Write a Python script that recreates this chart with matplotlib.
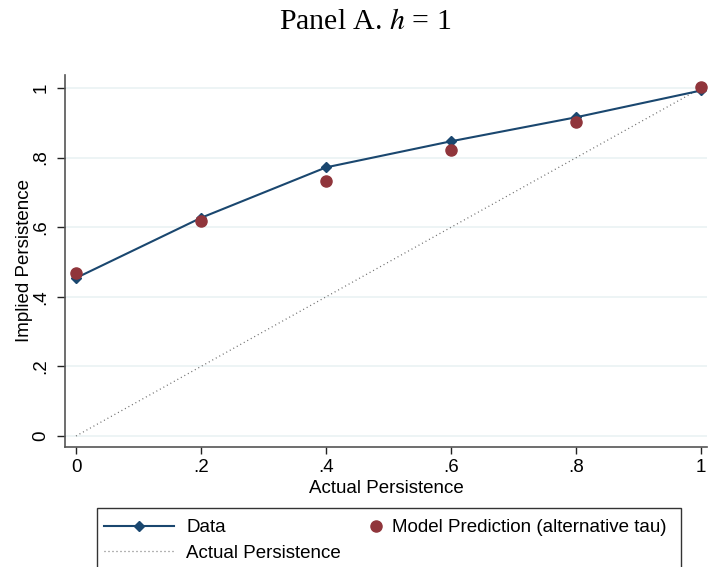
import matplotlib
matplotlib.use("Agg")
import matplotlib.pyplot as plt
from matplotlib.lines import Line2D
from matplotlib.patches import Rectangle

# Data
actual = [0, 0.2, 0.4, 0.6, 0.8, 1.0]
data_implied = [0.454, 0.627, 0.772, 0.847, 0.916, 0.993]
model_implied = [0.467, 0.617, 0.732, 0.822, 0.901, 1.002]
diag_x = [0, 1]
diag_y = [0, 1]
tick_vals = [0, 0.2, 0.4, 0.6, 0.8, 1.0]
tick_labels = ["0", ".2", ".4", ".6", ".8", "1"]

plt.rcParams['font.family'] = ['Liberation Sans', 'DejaVu Sans']
plt.rcParams['mathtext.fontset'] = 'stix'

W, H = 708, 567
navy = '#1a476f'
maroon = '#90353b'
grid_c = '#eaf2f3'
spine_c = '#555555'
dot_c = '#6a6a6a'
FS = 13.5

fig = plt.figure(figsize=(W/100, H/100), dpi=100)
ax = fig.add_axes([65/W, 120/H, 1 - 65/W - 0.001, (447-75)/H])

for v in tick_vals:
    ax.axhline(v, color=grid_c, lw=1.2, zorder=0)

ax.plot(diag_x, diag_y, color=dot_c, lw=0.9, ls=(0, (0.8, 2.4)), zorder=2)
ax.plot(actual, data_implied, color=navy, lw=1.5, marker='D', ms=5.5,
        markerfacecolor=navy, markeredgecolor=navy, zorder=3)
ax.plot(actual, model_implied, ls='none', marker='o', ms=8,
        markerfacecolor=maroon, markeredgecolor=maroon, zorder=4)

ax.set_xlim(-0.0176, 1.0096)
ax.set_ylim(-0.0316, 1.0374)
ax.set_xticks(tick_vals)
ax.set_xticklabels(tick_labels, fontsize=FS)
ax.set_yticks(tick_vals)
ax.set_yticklabels(tick_labels, fontsize=FS, rotation=90, va='center')
ax.tick_params(axis='y', length=6, width=1, color='#222222', pad=5)
ax.tick_params(axis='x', length=5, width=1, color='#222222', pad=4)

for s in ['top', 'right']:
    ax.spines[s].set_visible(False)
for s in ['left', 'bottom']:
    ax.spines[s].set_color(spine_c)
    ax.spines[s].set_linewidth(1.2)

ax.set_xlabel("Actual Persistence", fontsize=FS, labelpad=2.5)
ax.set_ylabel("Implied Persistence", fontsize=FS, labelpad=-0.5)

fig.text(365/W, 1 - 22/H, r"Panel A. $h$ = 1", ha='center', va='center',
         fontsize=21.5, family=['Liberation Serif', 'DejaVu Serif'])

# legend frame
fig.patches.append(Rectangle((97/W, -0.05), (681-97)/W, 0.05 + (567-508)/H,
                             transform=fig.transFigure, fill=False,
                             edgecolor='#333333', lw=1.0))

em = FS * 100 / 72
h_data = Line2D([], [], color=navy, lw=1.5, marker='D', ms=5.5)
h_act = Line2D([], [], color=dot_c, lw=0.9, ls=(0, (0.8, 2.4)))
h_mod = Line2D([], [], ls='none', marker='o', ms=8, color=maroon)

leg1 = fig.legend([h_data, h_act], ["Data", "Actual Persistence"],
                  loc='upper left', bbox_to_anchor=(104/W, 1 - 519/H),
                  fontsize=FS, frameon=False, handlelength=70/em,
                  handletextpad=12/em, borderpad=0, labelspacing=0.45,
                  borderaxespad=0)
leg2 = fig.legend([h_mod], ["Model Prediction (alternative tau)"],
                  loc='upper left', bbox_to_anchor=(367/W, 1 - 519/H),
                  fontsize=FS, frameon=False, handlelength=18/em,
                  handletextpad=7/em, borderpad=0, borderaxespad=0)

fig.savefig("out.png", dpi=100)
